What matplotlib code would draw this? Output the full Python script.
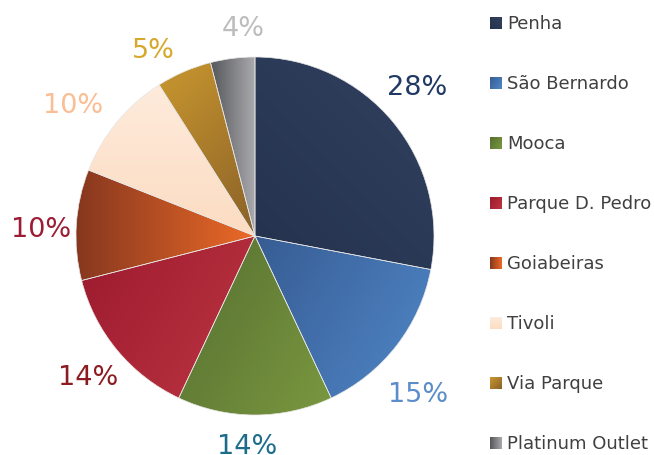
import numpy as np
import matplotlib.pyplot as plt
from matplotlib.patches import Rectangle
from matplotlib.colors import to_rgb

# dados
lojas = ['Penha', 'São Bernardo', 'Mooca', 'Parque D. Pedro',
         'Goiabeiras', 'Tivoli', 'Via Parque', 'Platinum Outlet']
participacao = [28, 15, 14, 14, 10, 10, 5, 4]
rotulos = ['28%', '15%', '14%', '14%', '10%', '10%', '5%', '4%']

# cores (gradiente inicio -> fim, direcao em graus)
cor_ini = ['#25324e', '#375c93', '#566f30', '#9c1a2f', '#86371f', '#fcdcc2', '#c9972f', '#55565a']
cor_fim = ['#30415f', '#5087c8', '#7a9840', '#bd3641', '#ec6a28', '#feebdc', '#8a6128', '#aaaaae']
direcao = [45, -30, -30, -30, 0, 90, -45, 0]
cor_rotulo = ['#1f3864', '#5b8dcb', '#1d6d8a', '#8c1c22', '#9c1c34', '#fbbe94', '#d6a82c', '#bdbdbd']

# posicoes dos rotulos (pixels a partir do topo, linha de base)
pos_rotulo = [(417, 95), (418, 402), (247, 454), (88, 385),
              (41, 237), (73, 113), (153, 58), (243, 36)]

W, H = 654, 456
fig = plt.figure(figsize=(W / 100, H / 100), dpi=100)
ax = fig.add_axes([0, 0, 1, 1])


def preenche_gradiente(ax, patch, c1, c2, ang, verts):
    x0, y0 = verts.min(axis=0)
    x1, y1 = verts.max(axis=0)
    n = 200
    xx, yy = np.meshgrid(np.linspace(x0, x1, n), np.linspace(y0, y1, n))
    d = np.array([np.cos(np.radians(ang)), np.sin(np.radians(ang))])
    p = xx * d[0] + yy * d[1]
    t = (p - p.min()) / (p.max() - p.min() + 1e-9)
    a, b = np.array(to_rgb(c1)), np.array(to_rgb(c2))
    img = a[None, None, :] * (1 - t[..., None]) + b[None, None, :] * t[..., None]
    im = ax.imshow(img, origin='lower', extent=[x0, x1, y0, y1],
                   interpolation='bilinear', zorder=1)
    im.set_clip_path(patch)


cx, cy, r = 255, H - 237, 179
wedges, _ = ax.pie(participacao, startangle=90, counterclock=False,
                   center=(cx, cy), radius=r,
                   wedgeprops=dict(edgecolor='#e6e6e6', linewidth=0.5))

for w, c1, c2, ang in zip(wedges, cor_ini, cor_fim, direcao):
    verts = w.get_patch_transform().transform(w.get_path().vertices)
    w.set_facecolor('none')
    w.set_zorder(2)
    preenche_gradiente(ax, w, c1, c2, ang, verts)

for txt, (x, y), c in zip(rotulos, pos_rotulo, cor_rotulo):
    ax.text(x, H - y, txt, color=c, fontsize=19.5, family='DejaVu Sans',
            ha='center', va='baseline', zorder=5)

# legenda
for i, nome in enumerate(lojas):
    yc = H - (24 + 60 * i)
    q = Rectangle((490, yc - 6), 12, 12, facecolor='none', edgecolor='none')
    ax.add_patch(q)
    verts = np.array([[490, yc - 6], [502, yc + 6]])
    preenche_gradiente(ax, q, cor_ini[i], cor_fim[i], direcao[i], verts)
    ax.text(507, yc, nome, color='#404040', fontsize=13, family='DejaVu Sans',
            ha='left', va='center')

ax.set_xlim(0, W)
ax.set_ylim(0, H)
ax.set_aspect('equal')
ax.axis('off')

fig.savefig('out.png', dpi=100)
